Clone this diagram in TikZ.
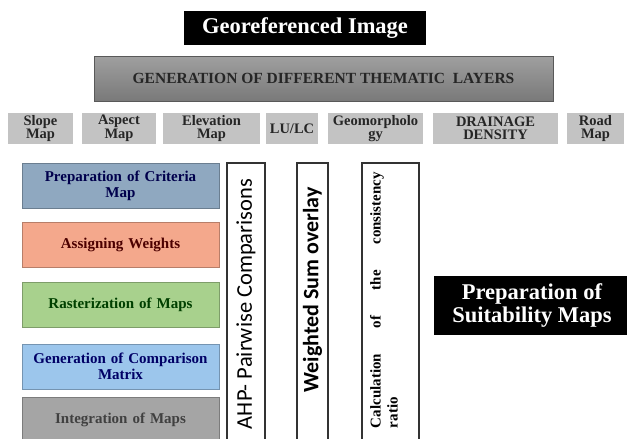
\documentclass[tikz,border=0pt]{standalone}
\usepackage{fontspec}
\setmainfont{Liberation Serif}
\newfontfamily\calibrifont{Carlito}
\usepackage{tikz}

\definecolor{criteriablue}{HTML}{8FA8C0}
\definecolor{weightsalmon}{HTML}{F4A88C}
\definecolor{rastergreen}{HTML}{A8D18D}
\definecolor{matrixblue}{HTML}{9CC6EC}
\definecolor{integgray}{HTML}{A5A5A5}
\definecolor{layergray}{HTML}{C3C3C3}

\begin{document}
\begin{tikzpicture}[x=1pt, y=-1pt,
  darkbox/.style={fill=black, text=white, inner sep=0pt, align=center},
  layerbox/.style={fill=layergray, text=black!85, inner sep=0pt, align=center,
    minimum height=31pt, font=\bfseries\fontsize{14.5}{13.5}\selectfont},
  stagebox/.style={draw=#1!75!black, fill=#1, minimum width=197pt, minimum height=45pt,
    inner sep=0pt, text width=190pt, align=center, font=\bfseries\fontsize{15}{16}\selectfont},
  colbox/.style={draw=black!80, line width=1.2pt, fill=white, inner sep=0pt, minimum height=282pt}]
  \useasboundingbox (0,0) rectangle (627,439);

  % top boxes
  \node[darkbox, minimum width=242pt, minimum height=34pt,
    font=\bfseries\fontsize{22.5}{24}\selectfont] (geo) at (305,28) {Georeferenced Image};
  \node[draw=black!65, line width=1pt, top color=gray!75, bottom color=gray!95!black,
    minimum width=459pt, minimum height=45pt, text=black!85,
    font=\bfseries\fontsize{15.5}{17}\selectfont] (gen) at (323.5,78.5)
    {GENERATION OF DIFFERENT THEMATIC\ \ LAYERS};

  % thematic layers
  \node[layerbox, minimum width=65pt]  (slope) at (40.5,128.5)  {Slope\\Map};
  \node[layerbox, minimum width=74pt]  (aspect) at (119,128.5)  {Aspect\\Map};
  \node[layerbox, minimum width=97pt]  (elev) at (211.5,128.5)  {Elevation\\Map};
  \node[layerbox, minimum width=52pt]  (lulc) at (292,128.5)    {LU/LC};
  \node[layerbox, minimum width=95pt]  (geom) at (375.5,128.5)  {Geomorpholo\\gy};
  \node[layerbox, minimum width=125pt] (drain) at (495.5,128.5) {DRAINAGE\\DENSITY};
  \node[layerbox, minimum width=57pt]  (road) at (595.5,128.5)  {Road\\Map};

  % method stages
  \node[stagebox=criteriablue, text=blue!30!black] (criteria) at (120.5,185.5) {Preparation of Criteria\\Map};
  \node[stagebox=weightsalmon, text=red!30!black] (weights) at (120.5,244.5) {Assigning Weights};
  \node[stagebox=rastergreen, text=green!25!black] (raster) at (120.5,304.5) {Rasterization of Maps};
  \node[stagebox=matrixblue, text=blue!40!black] (matrix) at (120.5,366.5) {Generation of Comparison\\Matrix};
  \node[stagebox=integgray, text=black!75] (integ) at (120.5,419.5) {Integration of Maps};

  % vertical columns
  \node[colbox, minimum width=38pt] (ahp) at (246,304) {};
  \node[rotate=90, font=\calibrifont\fontsize{22.5}{24}\selectfont] (ahptext) at (246,304) {AHP- Pairwise Comparisons};
  \node[colbox, minimum width=31pt] (wso) at (312.5,304) {};
  \node[rotate=90, font=\calibrifont\bfseries\fontsize{22}{24}\selectfont] (wsotext) at (312.5,290) {Weighted Sum overlay};
  \node[colbox, minimum width=57pt] (ccr) at (390.5,304) {};
  \node[rotate=90, text width=256pt, align=justify, inner sep=0pt,
    font=\bfseries\fontsize{15}{17}\selectfont] (ccrtext) at (384,300)
    {Calculation\hfill of\hfill the\hfill consistency\\ratio};

  % result
  \node[darkbox, minimum width=196pt, minimum height=59pt,
    font=\bfseries\fontsize{22.5}{23}\selectfont] (suit) at (532,305.5) {Preparation of\\Suitability Maps};
\end{tikzpicture}
\end{document}
